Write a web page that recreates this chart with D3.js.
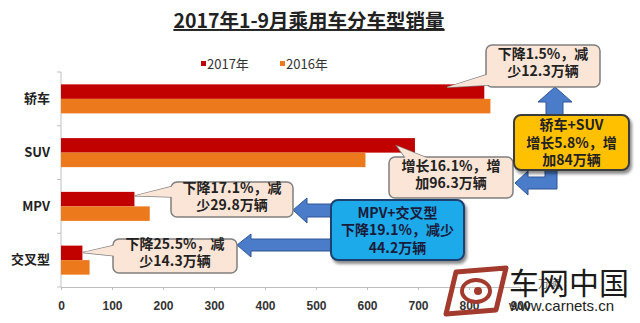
<!DOCTYPE html>
<meta charset="utf-8">
<style>
body { margin: 0; background: #ffffff; }
svg { display: block; font-family: "Noto Sans CJK SC", "Liberation Sans", sans-serif; }
.axis text { font-family: "Liberation Sans", sans-serif; font-weight: bold; font-size: 12px; fill: #333; }
.axis path, .axis line { stroke: #bfbfbf; }
.cat text { font-family: "Noto Sans CJK SC", sans-serif; font-weight: bold; font-size: 13px; fill: #222; }
.note text { font-weight: bold; font-size: 14px; fill: #222; }
</style>
<svg id="chart" width="640" height="323"></svg>
<script src="https://cdn.jsdelivr.net/npm/d3@7"></script>
<script>

// sales in 10k units, Jan-Sep
var categories = ["轿车", "SUV", "MPV", "交叉型"];
var sales2017 = [830, 694, 144, 42];
var sales2016 = [842, 597, 174, 56];
var years = ["2017年", "2016年"];
var xTicks = [0, 100, 200, 300, 400, 500, 600, 700, 800, 900];

var colors = ["#c10000", "#ec7a1c"];

var svg = d3.select("#chart");

var defs = svg.append("defs");
var shadow = defs.append("filter").attr("id", "shadow")
	.attr("x", "-20%").attr("y", "-20%").attr("width", "150%").attr("height", "160%");
shadow.append("feDropShadow").attr("dx", 2).attr("dy", 3)
	.attr("stdDeviation", 1.5).attr("flood-color", "#000").attr("flood-opacity", 0.45);

var x = d3.scaleLinear().domain([0, 900]).range([61, 520]);
var y0 = d3.scaleBand().domain(categories).range([72, 287])
	.paddingInner(0.46).paddingOuter(0.23);
var y1 = d3.scaleBand().domain(years).range([0, y0.bandwidth()]);

// title
svg.append("text")
	.attr("x", 309).attr("y", 28)
	.attr("text-anchor", "middle")
	.attr("font-size", "19.5px").attr("font-weight", "bold")
	.attr("fill", "#222")
	.attr("text-decoration", "underline")
	.text("2017年1-9月乘用车分车型销量");

// legend
var legend = svg.append("g").selectAll("g")
	.data(years)
	.enter().append("g")
	.attr("transform", function(d, i) { return "translate(" + (201 + i * 79) + ",0)"; });
legend.append("rect")
	.attr("y", 61).attr("width", 5).attr("height", 5)
	.attr("fill", function(d, i) { return colors[i]; });
legend.append("text")
	.attr("x", 6).attr("y", 69)
	.attr("font-size", "13px").attr("fill", "#333")
	.text(function(d) { return d; });

// axes
svg.append("g")
	.attr("class", "axis")
	.attr("transform", "translate(0,287)")
	.call(d3.axisBottom(x).tickValues(xTicks).tickSize(3).tickSizeOuter(0).tickPadding(11));

svg.append("line")
	.attr("x1", 61).attr("x2", 61).attr("y1", 72).attr("y2", 287)
	.attr("stroke", "#bfbfbf");
var bounds = [y0.range()[0]].concat(categories.map(function(c) { return y0(c) - y0.step() * y0.paddingInner() / 2 + y0.step(); }));
svg.append("g").selectAll("line")
	.data(bounds)
	.enter().append("line")
	.attr("x1", 57).attr("x2", 61)
	.attr("y1", function(d) { return d; }).attr("y2", function(d) { return d; })
	.attr("stroke", "#bfbfbf");

svg.append("g")
	.attr("class", "cat")
	.attr("transform", "translate(61,0)")
	.call(d3.axisLeft(y0).tickSize(0).tickPadding(11))
	.call(function(g) { g.select(".domain").remove(); });

// bars
var rows = categories.map(function(c, i) { return { cat: c, vals: [sales2017[i], sales2016[i]] }; });
svg.append("g").selectAll("g")
	.data(rows)
	.enter().append("g")
	.attr("transform", function(d) { return "translate(0," + y0(d.cat) + ")"; })
	.selectAll("rect")
	.data(function(d) { return d.vals.map(function(v, i) { return { key: years[i], v: v, i: i }; }); })
	.enter().append("rect")
	.attr("x", x(0))
	.attr("y", function(d) { return y1(d.key); })
	.attr("width", function(d) { return x(d.v) - x(0); })
	.attr("height", y1.bandwidth())
	.attr("fill", function(d) { return colors[d.i]; });

// unit label (mostly hidden behind the watermark)
svg.append("text").attr("x", 538).attr("y", 288)
	.attr("font-size", "11px").attr("fill", "#666").text("万辆");

// blue arrows
function arrow(pts) {
	svg.append("path")
		.attr("d", "M" + pts.map(function(p) { return p.join(","); }).join("L") + "Z")
		.attr("fill", "#4a7cc9").attr("stroke", "#2e5597").attr("stroke-width", 1);
}
// up arrow: 轿车+SUV box -> 轿车 note
arrow([[555, 87], [572, 102], [563, 102], [563, 118], [546, 118], [546, 102], [538, 102]]);
// L arrow: 轿车+SUV box -> SUV note
arrow([[557, 166], [557, 189], [528, 189], [528, 195], [515, 183], [528, 171], [528, 177], [545, 177], [545, 166]]);
// MPV+交叉型 box -> MPV note / 交叉型 note
arrow([[293, 210], [307, 198], [307, 204], [336, 204], [336, 217], [307, 217], [307, 223]]);
arrow([[237, 245], [251, 234], [251, 239], [336, 239], [336, 251], [251, 251], [251, 257]]);

// callouts: tip is given as [value, category, series, offset in band]
var notes = [
	{ lines: ["下降1.5%，减", "少12.3万辆"], box: [486, 45, 114, 42], tip: [757, 0, 0, 3], base: [[489, 74], [506, 84]] },
	{ lines: ["增长16.1%，增", "加96.3万辆"], box: [389, 157, 124, 41], tip: [659, 1, 0, 8], base: [[407, 160], [432, 160]] },
	{ lines: ["下降17.1%，减", "少29.8万辆"], box: [171, 182, 122, 35], tip: [145, 2, 0, 4], base: [[174, 186], [174, 197]] },
	{ lines: ["下降25.5%，减", "少14.3万辆"], box: [113, 239, 124, 34], tip: [43, 3, 0, 7], base: [[116, 245], [116, 256]] }
];

notes.forEach(function(n) {
	var tx = x(n.tip[0]);
	var ty = y0(categories[n.tip[1]]) + y1(years[n.tip[2]]) + n.tip[3];
	var wedge = "M" + n.base[0].join(",") + "L" + tx + "," + ty + "L" + n.base[1].join(",") + "Z";
	var g = svg.append("g").attr("class", "note");
	g.append("path").attr("d", wedge).attr("fill", "#fbe5d6").attr("stroke", "#7f7f7f").attr("stroke-width", 1.5);
	g.append("rect")
		.attr("x", n.box[0]).attr("y", n.box[1]).attr("width", n.box[2]).attr("height", n.box[3])
		.attr("rx", 6).attr("fill", "#fbe5d6").attr("stroke", "#7f7f7f").attr("stroke-width", 1.5);
	g.append("path").attr("d", wedge).attr("fill", "#fbe5d6");
	g.selectAll("text").data(n.lines).enter().append("text")
		.attr("x", n.box[0] + n.box[2] / 2)
		.attr("y", function(d, i) { return n.box[1] + n.box[3] / 2 - 3.5 + (i - 0.5) * 17 + 5; })
		.attr("text-anchor", "middle")
		.text(function(d) { return d; });
});

// summary boxes
var summaries = [
	{ lines: ["轿车+SUV", "增长5.8%，增", "加84万辆"], box: [514, 115, 115, 55], fill: "#ffc000", stroke: "#3a3a3a", color: "#222" },
	{ lines: ["MPV+交叉型", "下降19.1%，减少", "44.2万辆"], box: [331, 200, 133, 60], fill: "#1eaaea", stroke: "#1f3f6f", color: "#1a1a3a" }
];
summaries.forEach(function(s) {
	var g = svg.append("g").attr("class", "note");
	g.append("rect")
		.attr("x", s.box[0]).attr("y", s.box[1]).attr("width", s.box[2]).attr("height", s.box[3])
		.attr("rx", 7).attr("fill", s.fill).attr("stroke", s.stroke).attr("stroke-width", 2)
		.attr("filter", "url(#shadow)");
	g.selectAll("text").data(s.lines).enter().append("text")
		.attr("x", s.box[0] + s.box[2] / 2)
		.attr("y", function(d, i) { return s.box[1] + s.box[3] / 2 + (i - 1) * 17.5 + 5; })
		.attr("text-anchor", "middle")
		.style("fill", s.color)
		.text(function(d) { return d; });
});

// watermark
var wm = svg.append("g");
wm.append("path")
	.attr("d", "M456,272 L506,268 L496,310 L446,314 Z")
	.attr("fill", "none").attr("stroke", "#a33a2e").attr("stroke-width", 5).attr("stroke-linejoin", "round");
wm.append("ellipse").attr("cx", 476).attr("cy", 291).attr("rx", 14).attr("ry", 11)
	.attr("fill", "none").attr("stroke", "#a33a2e").attr("stroke-width", 4);
wm.append("circle").attr("cx", 478).attr("cy", 291).attr("r", 4).attr("fill", "#a33a2e");
wm.append("text").attr("x", 509).attr("y", 294)
	.attr("font-size", "30px").attr("fill", "#1a1a1a")
	.text("车网中国");
wm.append("text").attr("x", 509).attr("y", 311)
	.attr("font-family", "Liberation Sans, sans-serif")
	.attr("font-size", "15px").attr("fill", "#222")
	.text("www.carnets.cn");

</script>
